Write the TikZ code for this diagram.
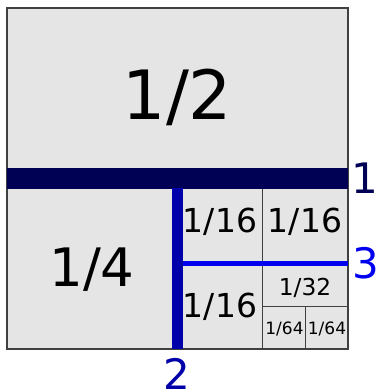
\documentclass[tikz,border=0pt]{standalone}
\usepackage{fontspec}
\setmainfont{DejaVu Sans}
\definecolor{cellfill}{HTML}{E5E5E5}
\definecolor{cellline}{HTML}{404040}
\definecolor{cutone}{RGB}{0,0,85}
\definecolor{cuttwo}{RGB}{0,0,170}
\definecolor{cutthree}{RGB}{0,0,240}
\tikzset{
  frac/.style={anchor=base, inner sep=0pt, text=black},
  cutlabel/.style={anchor=base, inner sep=0pt, font=\fontsize{42}{42}\selectfont},
  thin/.style={draw=cellline, line width=1pt},
}
\begin{document}
\begin{tikzpicture}[x=1pt,y=-1pt]
\useasboundingbox (0,0) rectangle (379,392);
% square
\draw[fill=cellfill, draw=cellline, line width=1.2pt] (7,8) rectangle (348,349);
% thin dividers
\draw[thin] (262.75,188) -- (262.75,349);
\draw[thin] (262.75,306.4) -- (348,306.4);
\draw[thin] (305.4,306.4) -- (305.4,349);
% cuts
\draw[cutone, line width=21pt] (7,178) -- (348,178);
\draw[cuttwo, line width=10.5pt] (177.5,188) -- (177.5,349);
\draw[cutthree, line width=4.5pt] (182.75,263.5) -- (348,263.5);
% fractions
\node[frac, font=\fontsize{68}{68}\selectfont] (half) at (177.5,119) {1/2};
\node[frac, font=\fontsize{53}{53}\selectfont] (quarter) at (92,286) {1/4};
\node[frac, font=\fontsize{33}{33}\selectfont] (sa) at (220,232) {1/16};
\node[frac, font=\fontsize{33}{33}\selectfont] (sb) at (305,232) {1/16};
\node[frac, font=\fontsize{33}{33}\selectfont] (sc) at (220,317) {1/16};
\node[frac, font=\fontsize{23.3}{23.3}\selectfont] (tt) at (305,295) {1/32};
\node[frac, font=\fontsize{17}{17}\selectfont] (sfa) at (284.5,334) {1/64};
\node[frac, font=\fontsize{17}{17}\selectfont] (sfb) at (327,334) {1/64};
% cut labels
\node[cutlabel, text=cutone] (l1) at (365,193) {1};
\node[cutlabel, text=cuttwo] (l2) at (177,389) {2};
\node[cutlabel, text=cutthree] (l3) at (366,278) {3};
\end{tikzpicture}
\end{document}
